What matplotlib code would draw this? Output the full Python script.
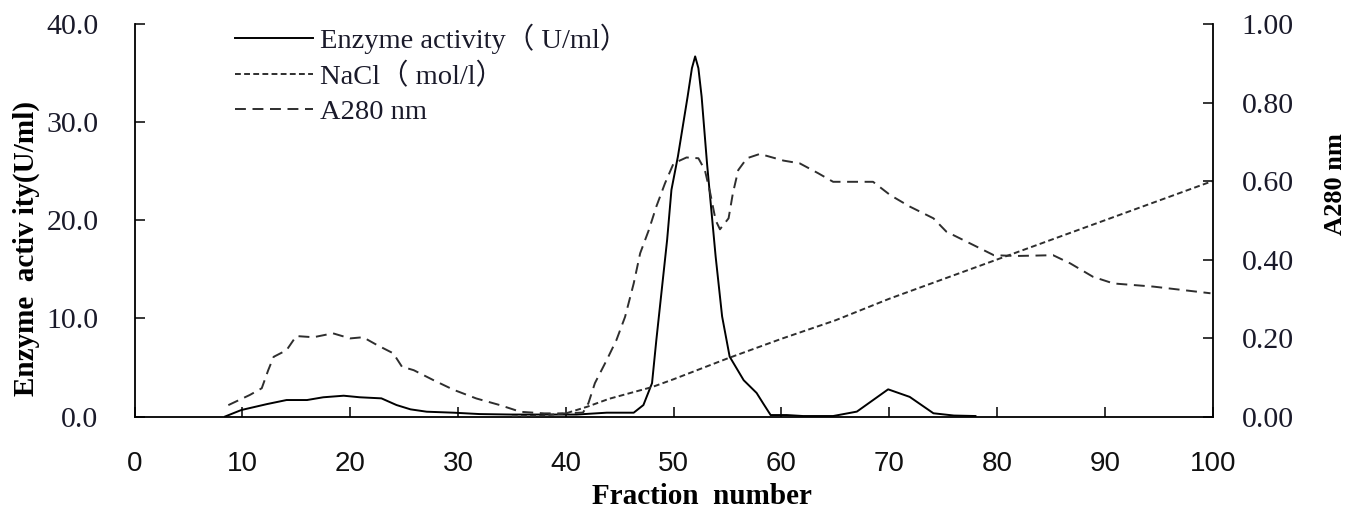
import matplotlib
matplotlib.use('Agg')
import matplotlib.pyplot as plt
from matplotlib.ticker import FormatStrFormatter

# ---------------- data ----------------
frac_enzyme = [8.4, 9.9, 12.3, 14.1, 16.0, 17.5, 19.4, 20.9, 22.9, 24.3, 25.6, 27.1,
               29.6, 32.0, 35.0, 38.0, 41.0, 43.8, 46.3, 47.2, 48.0, 48.4, 48.9,
               49.4, 49.8, 50.4, 51.3, 51.7, 52.0, 52.3, 52.6, 53.1, 53.9, 54.5,
               55.2, 56.5, 57.7, 58.3, 59.0, 60.5, 62.0, 64.8, 67.0, 69.9, 71.9,
               74.1, 76.0, 78.0]
enzyme = [0.0, 0.66, 1.27, 1.68, 1.68, 1.96, 2.12, 1.96, 1.85, 1.17, 0.73, 0.49,
          0.39, 0.25, 0.2, 0.2, 0.2, 0.39, 0.39, 1.17, 3.4, 7.8, 12.9,
          18.0, 23.1, 26.5, 32.6, 35.5, 36.7, 35.5, 32.6, 25.8, 16.3, 10.2,
          6.1, 3.7, 2.4, 1.35, 0.15, 0.15, 0.05, 0.05, 0.5, 2.77, 2.0,
          0.33, 0.1, 0.05]

frac_nacl = [35, 38, 40, 42, 44, 46, 48, 50, 55, 60, 65, 70, 75, 80, 85, 90, 95, 100]
nacl = [0.0, 0.003, 0.008, 0.025, 0.045, 0.06, 0.075, 0.095, 0.148, 0.198, 0.245,
        0.30, 0.35, 0.40, 0.45, 0.50, 0.55, 0.60]

frac_a280 = [8.7, 10.7, 11.8, 12.4, 12.9, 14.1, 15.0, 16.6, 18.4, 20.0, 21.2, 22.5,
             24.0, 24.8, 25.9, 27.7, 29.6, 31.7, 33.9, 35.8, 38.0, 40.0, 41.6,
             42.1, 42.7, 43.8, 44.7, 45.5, 46.3, 46.9, 47.7, 48.4, 49.2, 50.0,
             51.2, 52.3, 52.9, 53.4, 53.9, 54.3, 55.1, 55.5, 56.0, 56.8, 58.0,
             60.2, 61.7, 63.4, 64.8, 68.5, 70.1, 71.9, 74.1, 75.3, 77.8, 79.7,
             81.8, 85.2, 86.8, 88.9, 90.8, 94.5, 99.8]
a280 = [0.029, 0.055, 0.072, 0.118, 0.152, 0.169, 0.205, 0.202, 0.212, 0.199, 0.202, 0.182,
        0.161, 0.127, 0.118, 0.093, 0.068, 0.046, 0.029, 0.012, 0.008, 0.008, 0.010,
        0.034, 0.085, 0.144, 0.195, 0.254, 0.339, 0.416, 0.475, 0.535, 0.594, 0.645,
        0.660, 0.658, 0.628, 0.569, 0.500, 0.477, 0.505, 0.569, 0.628, 0.658, 0.669,
        0.652, 0.645, 0.620, 0.598, 0.598, 0.564, 0.535, 0.505, 0.471, 0.437, 0.411,
        0.409, 0.411, 0.390, 0.356, 0.339, 0.331, 0.314]

x_ticks = [0, 10, 20, 30, 40, 50, 60, 70, 80, 90, 100]
left_ticks = [0, 10, 20, 30, 40]
right_ticks = [0.0, 0.2, 0.4, 0.6, 0.8, 1.0]

lab_enzyme = 'Enzyme activity（ U/ml）'
lab_nacl = 'NaCl（ mol/l）'
lab_a280 = 'A280 nm'

# ---------------- figure ----------------
serif = ['Liberation Serif', 'Noto Sans CJK SC', 'DejaVu Serif']
narrow = ['Liberation Sans Narrow', 'Liberation Sans', 'DejaVu Sans']
tick_col = '#1a1a2a'

fig = plt.figure(figsize=(13.48, 5.09), dpi=100)
ax = fig.add_axes([0.0998, 0.1817, 0.7998, 0.7711])
ax2 = ax.twinx()

l1, = ax.plot(frac_enzyme, enzyme, color='black', lw=1.4, label=lab_enzyme)
l2, = ax2.plot(frac_nacl, nacl, color='#2e2e2e', lw=1.4, dashes=(3.0, 1.7), label=lab_nacl)
l3, = ax2.plot(frac_a280, a280, color='#2e2e2e', lw=1.4, dashes=(5.6, 3.4), label=lab_a280)

ax.set_xlim(0, 100)
ax.set_ylim(0, 40)
ax2.set_ylim(0, 1.0)
ax.set_xticks(x_ticks)
ax.set_yticks(left_ticks)
ax2.set_yticks(right_ticks)
ax.yaxis.set_major_formatter(FormatStrFormatter('%.1f'))
ax2.yaxis.set_major_formatter(FormatStrFormatter('%.2f'))

for a in (ax, ax2):
    a.spines['top'].set_visible(False)
    for s in a.spines.values():
        s.set_linewidth(1.3)
ax.spines['right'].set_visible(False)
ax2.spines['left'].set_visible(False)
ax2.spines['bottom'].set_visible(False)

ax.tick_params(axis='x', direction='in', length=7, width=1.1, pad=25)
ax.tick_params(axis='y', direction='in', length=7, width=1.1, pad=26)
ax2.tick_params(axis='y', direction='in', length=7, width=1.1, pad=21)

for t in ax.get_xticklabels():
    t.set_fontfamily(narrow)
    t.set_fontsize(20)
    t.set_color('#111111')
for t in ax.get_yticklabels() + ax2.get_yticklabels():
    t.set_fontfamily(serif)
    t.set_fontsize(21.5)
    t.set_color(tick_col)

ax.set_xlabel('Fraction  number', fontfamily=serif, fontsize=21, fontweight='bold', va='center')
ax.xaxis.set_label_coords(0.526, -0.205)
ax.set_ylabel('Enzyme  activ ity(U/ml)', fontfamily=serif, fontsize=21, fontweight='bold', va='center')
ax.yaxis.set_label_coords(-0.1006, 0.427)
ax2.set_ylabel('A280 nm', fontfamily=serif, fontsize=19, fontweight='bold', va='center', rotation=90)
ax2.yaxis.set_label_coords(1.114, 0.592)

leg = ax.legend(handles=[l1, l2, l3], loc='upper left', bbox_to_anchor=(0.093, 1.0),
                frameon=False, prop={'family': serif, 'size': 20.5},
                handlelength=2.75, handletextpad=0.25, labelspacing=0.3,
                borderpad=0, borderaxespad=0)
for t in leg.get_texts():
    t.set_color('#1a1a2a')

fig.savefig('out.png', dpi=100)
